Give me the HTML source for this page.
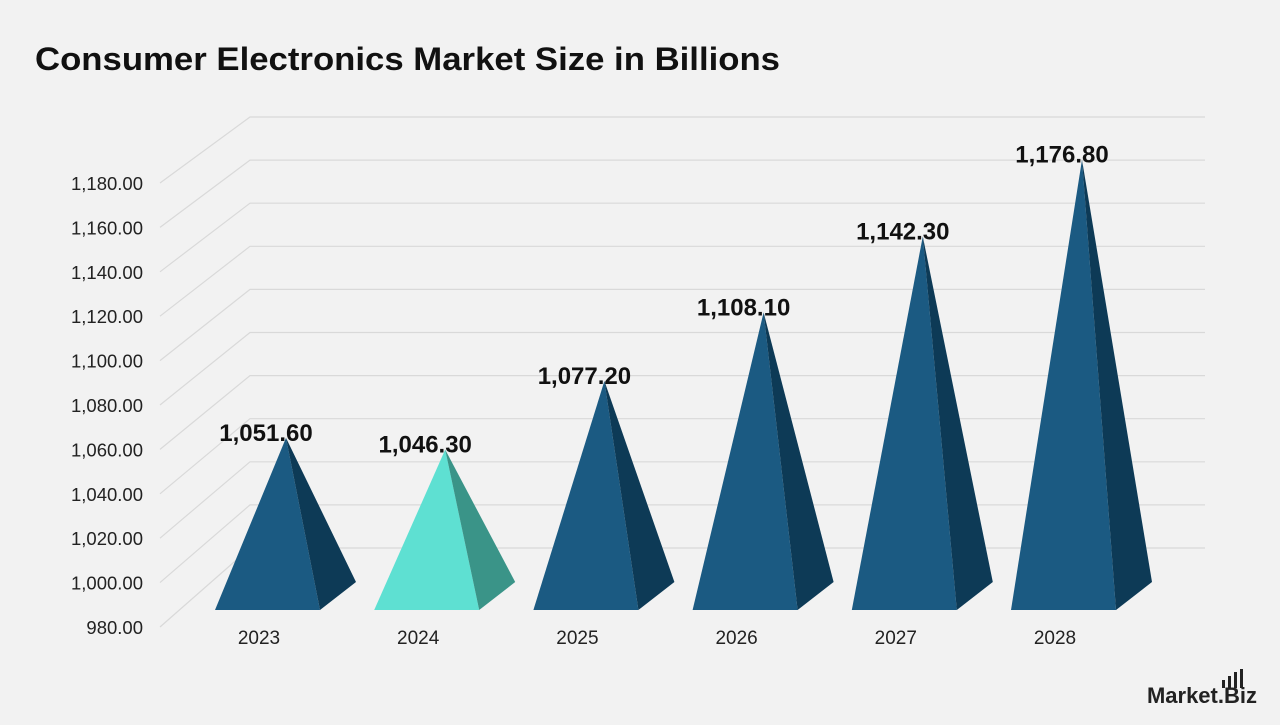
<!DOCTYPE html>
<html><head><meta charset="utf-8"><style>
body{margin:0;background:#f2f2f2;width:1280px;height:720px;overflow:hidden;font-family:"Liberation Sans",sans-serif}
</style></head><body>
<svg width="1280" height="720" xmlns="http://www.w3.org/2000/svg">
<text x="35" y="70" font-size="32" font-weight="bold" fill="#111" textLength="745" lengthAdjust="spacingAndGlyphs">Consumer Electronics Market Size in Billions</text>
<g id="grid"></g>
<g id="ticks"></g>
<g id="bars"></g>
<g>
<rect x="1222" y="680" width="3" height="8" fill="#222"/><rect x="1228" y="676" width="3" height="12" fill="#222"/><rect x="1234" y="672" width="3" height="16" fill="#222"/><rect x="1240" y="669" width="3" height="19" fill="#222"/>
<text x="1257" y="703" font-size="22" font-weight="bold" text-anchor="end" fill="#222">Market.Biz</text></g>
</svg>
<script>
const categories=["2023","2024","2025","2026","2027","2028"];
const values=[1051.6,1046.3,1077.2,1108.1,1142.3,1176.8];
const labels=["1,051.60","1,046.30","1,077.20","1,108.10","1,142.30","1,176.80"];
const ticks=[980,1000,1020,1040,1060,1080,1100,1120,1140,1160,1180];
const tickLabels=["980.00","1,000.00","1,020.00","1,040.00","1,060.00","1,080.00","1,100.00","1,120.00","1,140.00","1,160.00","1,180.00"];
const NS="http://www.w3.org/2000/svg";
function mk(t,a,p){const e=document.createElementNS(NS,t);for(const k in a)e.setAttribute(k,a[k]);p.appendChild(e);return e;}
const yFront=v=>627-(v-980)*2.22;
const yBack=v=>548-(v-980)*2.155;
const yMid=v=>597-(v-980)*2.222;
const xCat=i=>215+i*159.2;
const grid=document.getElementById('grid'),tk=document.getElementById('ticks'),bars=document.getElementById('bars');
ticks.forEach((v,i)=>{
 const d=mk('polyline',{points:`160,${yFront(v)} 250,${yBack(v)} 1205,${yBack(v)}`,fill:'none',stroke:'#d9d9d9','stroke-width':1.2},grid);
 
 
 const t=mk('text',{x:143,y:yFront(v)+7,'font-size':18.5,'text-anchor':'end',fill:'#222'},tk);
 t.textContent=tickLabels[i];
 
 
});
values.forEach((v,i)=>{
 const L=xCat(i),ya=yMid(v),ax=L+71;
 const hl=i===1;
 const g=mk('g',{},bars);
 
 
 mk('polygon',{points:`${L},610 ${L+105},610 ${ax},${ya}`,fill:hl?'#5ee0d2':'#1b5a82'},g);
 mk('polygon',{points:`${L+105},610 ${L+141},582 ${ax},${ya}`,fill:hl?'#3a9488':'#0d3a56'},g);
 const t=mk('text',{x:ax-20,y:ya+3,'font-size':24,'font-weight':'bold','text-anchor':'middle',fill:'#111'},bars);
 t.textContent=labels[i];
 
 
 const c=mk('text',{x:L+44,y:644,'font-size':19,'text-anchor':'middle',fill:'#222'},bars);
 c.textContent=categories[i];
 
 
});
</script>
</body></html>
